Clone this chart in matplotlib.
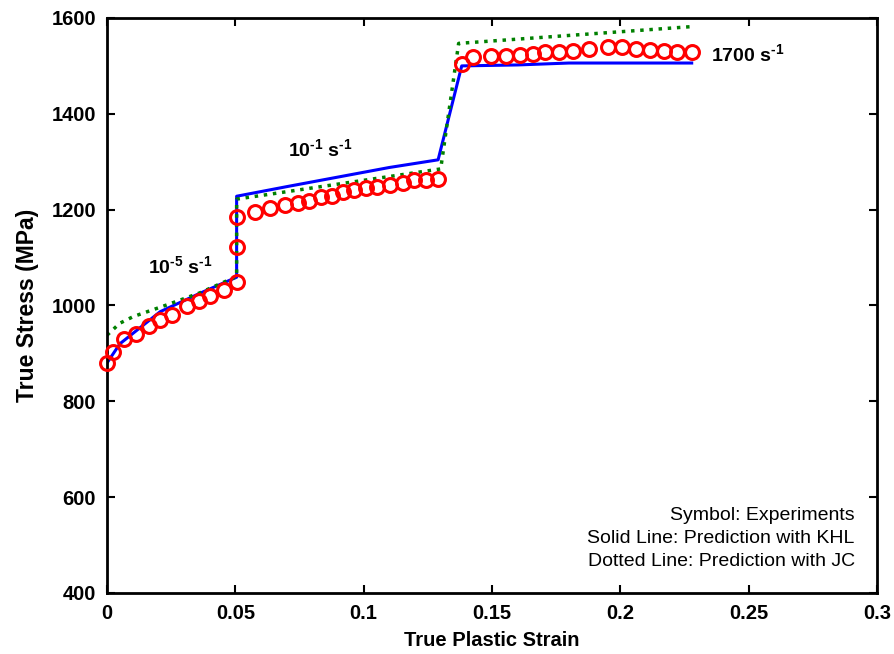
import matplotlib
matplotlib.use("Agg")
import matplotlib.pyplot as plt
import numpy as np

plt.rcParams['font.family'] = ['Liberation Sans', 'DejaVu Sans']
plt.rcParams['axes.unicode_minus'] = False
plt.rcParams['mathtext.fontset'] = 'custom'
plt.rcParams['mathtext.rm'] = 'Liberation Sans:bold'
plt.rcParams['mathtext.bf'] = 'Liberation Sans:bold'
plt.rcParams['mathtext.default'] = 'bf'

# experiments (symbols)
exp_strain = [0.0, 0.0025, 0.0066, 0.0113, 0.0165, 0.0207, 0.0252, 0.031, 0.036, 0.040, 0.0456, 0.0505,
              0.0505, 0.0508,
              0.0577, 0.0635, 0.0694, 0.0745, 0.0788, 0.0833, 0.0875, 0.0918, 0.0962, 0.1008, 0.1051,
              0.1103, 0.1152, 0.1196, 0.1243, 0.129,
              0.1382, 0.1425, 0.1495, 0.1555, 0.161, 0.1661, 0.1707, 0.1762, 0.1815, 0.1879, 0.195,
              0.2005, 0.2061, 0.2116, 0.217, 0.2222, 0.2278]
exp_stress = [880, 903, 930, 941, 957, 970, 980, 998, 1010, 1019, 1033, 1048,
              1122, 1184,
              1196, 1203, 1210, 1214, 1219, 1227, 1229, 1236, 1240, 1245, 1248,
              1252, 1255, 1261, 1261, 1265,
              1504, 1518, 1520, 1520, 1523, 1525, 1528, 1530, 1532, 1535, 1539,
              1539, 1535, 1534, 1532, 1530, 1528]

# KHL prediction (solid)
khl_strain = [0.0, 0.005, 0.0207, 0.036, 0.0505, 0.0505, 0.07, 0.09, 0.11, 0.129, 0.1382, 0.16, 0.18, 0.2278]
khl_stress = [880, 920, 987, 1025, 1059, 1228, 1248, 1268, 1288, 1304, 1500, 1502, 1506, 1506]

# JC prediction (dotted)
jc_strain = [0.0, 0.005, 0.0103, 0.0232, 0.036, 0.049, 0.0505, 0.0505, 0.13, 0.137, 0.2278]
jc_stress = [938, 963, 977, 1001, 1026, 1057, 1060, 1222, 1285, 1547, 1582]

fig = plt.figure(figsize=(8.94, 6.54), dpi=100)
ax = fig.add_axes([0.1197, 0.0933, 0.8613, 0.8792])

ax.plot(khl_strain, khl_stress, color="#0000ff", lw=2.2)
ax.plot(jc_strain, jc_stress, color="#008000", lw=2.5, ls=":")
ax.plot(exp_strain, exp_stress, 'o', mfc="none", mec="#ff0000", mew=2.2, ms=10, clip_on=False, zorder=5)

ax.set_xlim(0, 0.3)
ax.set_ylim(400, 1600)
ax.set_xticks([0, 0.05, 0.1, 0.15, 0.2, 0.25, 0.3])
ax.set_xticklabels(["0", "0.05", "0.1", "0.15", "0.2", "0.25", "0.3"])
ax.set_yticks(np.arange(400, 1601, 200))
ax.tick_params(direction="in", top=True, right=True, length=6, width=1.5, labelsize=14.5, pad=8)
for lab in ax.get_xticklabels() + ax.get_yticklabels():
    lab.set_fontweight("bold")
for s in ax.spines.values():
    s.set_linewidth(2)

ax.set_xlabel("True Plastic Strain", fontsize=14.5, fontweight="bold", labelpad=6)
ax.set_ylabel("True Stress (MPa)", fontsize=16.5, fontweight="bold", labelpad=9)

ax.text(0.0284, 1082, r"10$^{\text{-5}}$ s$^{\text{-1}}$", fontsize=14, fontweight="bold", ha="center", va="center")
ax.text(0.083, 1327, r"10$^{\text{-1}}$ s$^{\text{-1}}$", fontsize=14, fontweight="bold", ha="center", va="center")
ax.text(0.2497, 1524, r"1700 s$^{\text{-1}}$", fontsize=14, fontweight="bold", ha="center", va="center")

ax.text(0.2913, 562, "Symbol: Experiments", fontsize=14, ha="right", va="center")
ax.text(0.2913, 514, "Solid Line: Prediction with KHL", fontsize=14, ha="right", va="center")
ax.text(0.2913, 466, "Dotted Line: Prediction with JC", fontsize=14, ha="right", va="center")

fig.savefig("out.png", dpi=100)
